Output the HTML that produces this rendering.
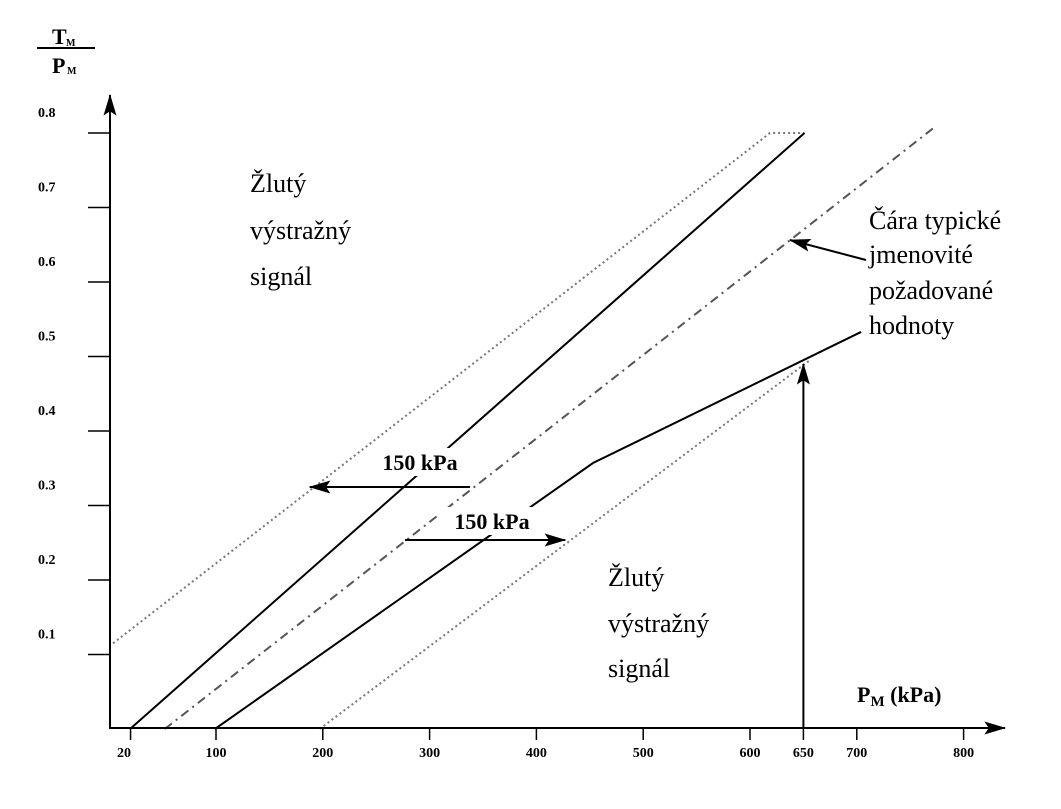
<!DOCTYPE html>
<html><head><meta charset="utf-8"><style>
html,body{margin:0;padding:0;background:#fff;}
svg{display:block;font-family:"Liberation Serif",serif;}
</style></head><body>
<svg id="chart" width="1061" height="809" viewBox="0 0 1061 809" xmlns="http://www.w3.org/2000/svg">
<defs>
<marker id="ah" viewBox="0 0 20 12" refX="19" refY="6" markerWidth="22" markerHeight="13" markerUnits="userSpaceOnUse" orient="auto"><path d="M0,0 L20,6 L0,12 L4,6 z" fill="#000"/></marker>
</defs>
<g id="marks"></g>
<g id="axes"></g>
<g font-weight="bold">
<text x="52" y="44" font-size="22">T</text><text x="66" y="46" font-size="10">M</text>
<line x1="37" y1="48" x2="95" y2="48" stroke="#000" stroke-width="2"/>
<text x="52" y="73" font-size="22">P</text><text x="67" y="74" font-size="10">M</text>
</g>
<text x="857" y="702" font-size="22" font-weight="bold">P<tspan font-size="15" dy="4">M</tspan><tspan dy="-4"> (kPa)</tspan></text>
<g font-size="26">
<text x="250" y="192">Žlutý</text><text x="250" y="239">výstražný</text><text x="250" y="285">signál</text></g>
<g font-size="26">
<text x="608" y="586">Žlutý</text><text x="608" y="632">výstražný</text><text x="608" y="677">signál</text></g>
<g font-size="26">
<text x="869" y="229">Čára typické</text><text x="869" y="263">jmenovité</text><text x="869" y="299">požadované</text><text x="869" y="334">hodnoty</text></g>
<line x1="866" y1="260" x2="790" y2="240" stroke="#000" stroke-width="2" marker-end="url(#ah)"/>
</svg>
<script>
const xTicks=[20,100,200,300,400,500,600,650,700,800];
const yTicks=[0.1,0.2,0.3,0.4,0.5,0.6,0.7,0.8];
const upperDottedP=[3.6,618.7,651]; const upperDottedV=[0.115,0.8,0.8];
const upperSolidP=[19.5,651]; const upperSolidV=[0,0.8];
const nominalP=[52,773]; const nominalV=[0,0.808];
const lowerSolidP=[99,453,704]; const lowerSolidV=[0,0.357,0.533];
const lowerDottedP=[197,656]; const lowerDottedV=[0,0.495];
const markerP=650; const markerV=0.49;
const shiftP=150;
const X=p=>216+(p-100)*1.068, Y=v=>729-v*745;
const NS="http://www.w3.org/2000/svg";
const marks=document.getElementById('marks'), axes=document.getElementById('axes');
function mk(tag,attrs,parent){const e=document.createElementNS(NS,tag);for(const k in attrs)e.setAttribute(k,attrs[k]);parent.appendChild(e);return e;}
function poly(P,V,style,name){const e=mk('polyline',Object.assign({points:P.map((p,i)=>X(p)+','+Y(V[i])).join(' '),fill:'none',stroke:'#000'},style),marks);

}
poly(upperDottedP,upperDottedV,{'stroke-width':2,'stroke-dasharray':'2 3',stroke:'#777'},'upper-warning-line');
poly(upperSolidP,upperSolidV,{'stroke-width':2},'upper-tolerance-line');
poly(nominalP,nominalV,{'stroke-width':2,'stroke-dasharray':'9 5 2 5',stroke:'#555'},'nominal-line');
poly(lowerSolidP,lowerSolidV,{'stroke-width':2},'lower-tolerance-line');
poly(lowerDottedP,lowerDottedV,{'stroke-width':2,'stroke-dasharray':'2 3',stroke:'#777'},'lower-warning-line');
function shiftArrow(x1,x2,y,tx,ty,name){
 const r=mk('rect',{x:tx-52,y:ty-22,width:104,height:28,fill:'#fff'},marks);
 
 
 const t=mk('text',{x:tx,y:ty,'font-size':22,'font-weight':'bold','text-anchor':'middle'},marks);t.textContent='150 kPa';
 
 
 const l=mk('line',{x1:x1,y1:y,x2:x2,y2:y,stroke:'#000','stroke-width':2,'marker-end':'url(#ah)'},marks);
 
 
}
shiftArrow(470,X(100+(470-216)/1.068-shiftP),487,420,470,'upper-shift');
shiftArrow(405,X(100+(405-216)/1.068+shiftP),540,492,529,'lower-shift');
const ya=mk('line',{x1:110,y1:729,x2:110,y2:95,stroke:'#000','stroke-width':2,'marker-end':'url(#ah)'},axes);


const xa=mk('line',{x1:110,y1:728,x2:1005,y2:728,stroke:'#000','stroke-width':2,'marker-end':'url(#ah)'},axes);


yTicks.forEach(v=>{const l=mk('line',{x1:88,y1:Y(v),x2:110,y2:Y(v),stroke:'#000','stroke-width':1.5},axes);


const t=mk('text',{x:38,y:Y(v)-16,'font-size':14,'font-weight':'bold'},axes);t.textContent=v.toFixed(1);

});
xTicks.forEach(p=>{const l=mk('line',{x1:X(p),y1:728,x2:X(p),y2:740,stroke:'#000','stroke-width':1.5},axes);


const t=mk('text',{x:p===20?124:X(p),y:757,'font-size':14,'font-weight':'bold','text-anchor':'middle'},axes);t.textContent=p;

});
const va=mk('line',{x1:X(markerP),y1:728,x2:X(markerP),y2:Y(markerV),stroke:'#000','stroke-width':2,'marker-end':'url(#ah)'},axes);


</script>
</body></html>
